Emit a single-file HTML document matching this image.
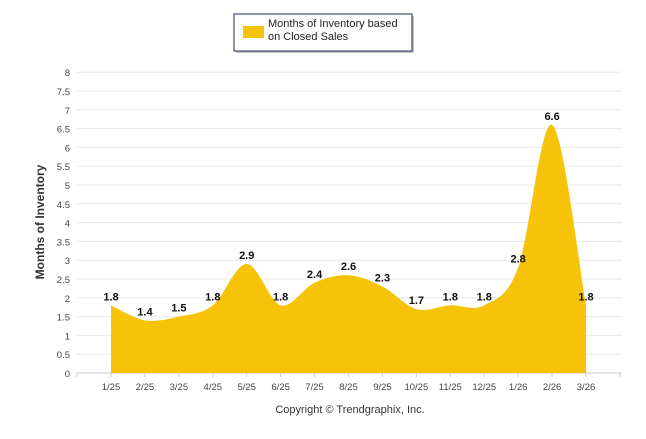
<!DOCTYPE html>
<html><head><meta charset="utf-8"><style>
body{margin:0;background:#fff;width:646px;height:434px;overflow:hidden;font-family:"Liberation Sans",sans-serif}
</style></head><body>
<svg width="646" height="434" xmlns="http://www.w3.org/2000/svg">
<g>
<rect x="236" y="16" width="178" height="37" fill="#888" opacity="0.5"/>
<rect x="234" y="14" width="178" height="37" fill="#fff" stroke="#1f2d5a" stroke-width="1"/>
<rect x="243" y="26" width="21" height="12" fill="#f7c308"/>
<text x="268" y="27" font-size="11" fill="#222">Months of Inventory based</text>
<text x="268" y="40" font-size="11" fill="#222">on Closed Sales</text>
</g>
<g id="grid"></g>
<g id="area"></g>
<g id="labels"></g>
<text transform="translate(44,222) rotate(-90)" text-anchor="middle" font-size="12" font-weight="bold" fill="#333">Months of Inventory</text>
<text x="350" y="413" text-anchor="middle" font-size="11" fill="#333">Copyright © Trendgraphix, Inc.</text>
</svg>
<script>
const categories=["1/25","2/25","3/25","4/25","5/25","6/25","7/25","8/25","9/25","10/25","11/25","12/25","1/26","2/26","3/26"];
const values=[1.8,1.4,1.5,1.8,2.9,1.8,2.4,2.6,2.3,1.7,1.8,1.8,2.8,6.6,1.8];
const yTicks=[0,0.5,1,1.5,2,2.5,3,3.5,4,4.5,5,5.5,6,6.5,7,7.5,8];
const NS="http://www.w3.org/2000/svg";
const x0=111,dx=33.93,yb=373,yk=37.6,left=77,right=622;
const xs=i=>x0+i*dx, ys=v=>yb-v*yk;
const grid=document.getElementById('grid');
function mk(t,a,p){const e=document.createElementNS(NS,t);for(const k in a)e.setAttribute(k,a[k]);p.appendChild(e);return e;}
yTicks.forEach(t=>{
 const l=mk('line',{x1:left,x2:right,y1:ys(t),y2:ys(t),stroke:t==0?'#ccc':'#e8e8e8'},grid);
 
 
 const tx=mk('text',{x:70,y:ys(t)+4,'text-anchor':'end','font-size':'9.5',fill:'#444'},grid);tx.textContent=t;
 
 
});
categories.forEach((c,i)=>{
 const tx=mk('text',{x:xs(i),y:390,'text-anchor':'middle','font-size':'9.5',fill:'#444'},grid);tx.textContent=c;
 
 
});
for(let i=0;i<=16;i++){mk('line',{x1:left+i*dx,x2:left+i*dx,y1:yb,y2:yb+4,stroke:'#ccc'},grid);}
const P=values.map((v,i)=>[xs(i),ys(v)]);
let d=`M${P[0][0]},${yb}L${P[0][0]},${P[0][1]}`;
for(let i=0;i<P.length-1;i++){
 const p0=P[Math.max(0,i-1)],p1=P[i],p2=P[i+1],p3=P[Math.min(P.length-1,i+2)];
 const c1=[p1[0]+(p2[0]-p0[0])/6,p1[1]+(p2[1]-p0[1])/6];
 const c2=[p2[0]-(p3[0]-p1[0])/6,p2[1]-(p3[1]-p1[1])/6];
 d+=`C${c1[0]},${c1[1]} ${c2[0]},${c2[1]} ${p2[0]},${p2[1]}`;
}
d+=`L${P[P.length-1][0]},${yb}Z`;
const a=mk('path',{d:d,fill:'#f7c308'},document.getElementById('area'));


const lab=document.getElementById('labels');
values.forEach((v,i)=>{
 const t=mk('text',{x:xs(i),y:ys(v)-5,'text-anchor':'middle','font-size':'11','font-weight':'bold',fill:'#111'},lab);t.textContent=v;
 
 
});
</script>
</body></html>
